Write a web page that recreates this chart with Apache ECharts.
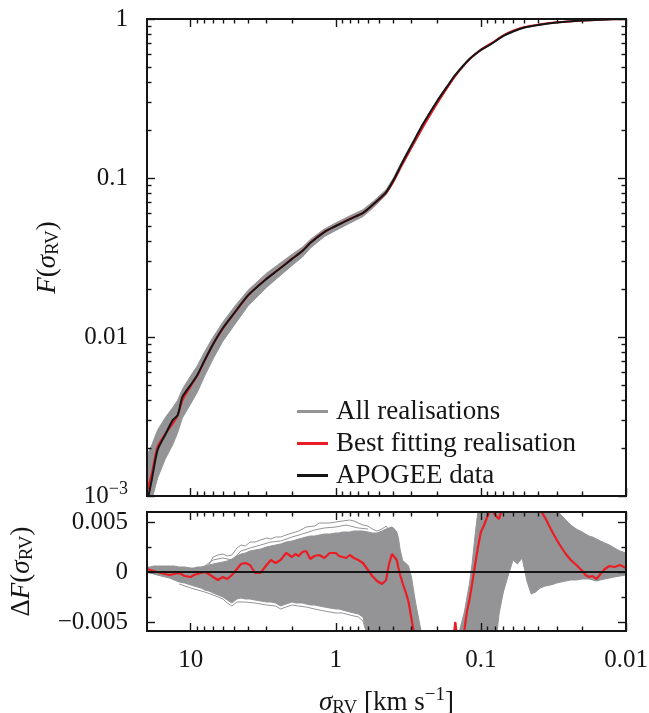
<!DOCTYPE html>
<html>
<head>
<meta charset="utf-8">
<script src="https://cdn.jsdelivr.net/npm/echarts@6/dist/echarts.min.js"></script>
<style>
  html, body { margin: 0; padding: 0; background: #ffffff; }
  #chart { width: 649px; height: 713px; }
</style>
</head>
<body>
<div id="chart"></div>
<script>
// ---------- axis ranges and tick labels ----------
const SIGMA_MIN = 0.01, SIGMA_MAX = 20;     // km/s, drawn reversed (large on the left)
const F_MIN = 0.001, F_MAX = 1;
const DF_MIN = -0.0059, DF_MAX = 0.006;

const sigmaTickValues = [0.01, 0.1, 1, 10];
const sigmaTickLabels = ['0.01', '0.1', '1', '10'];
const sigmaMinorTicks = [0.02, 0.03, 0.04, 0.05, 0.06, 0.07, 0.08, 0.09,
                         0.2, 0.3, 0.4, 0.5, 0.6, 0.7, 0.8, 0.9,
                         2, 3, 4, 5, 6, 7, 8, 9];
const fTickValues = [0.001, 0.01, 0.1, 1];
const fTickLabels = ['{m|10}{e|−3}', '0.01', '0.1', '1'];
const fMinorTicks = [0.002, 0.003, 0.004, 0.005, 0.006, 0.007, 0.008, 0.009,
                     0.02, 0.03, 0.04, 0.05, 0.06, 0.07, 0.08, 0.09,
                     0.2, 0.3, 0.4, 0.5, 0.6, 0.7, 0.8, 0.9];
const dfTickValues = [-0.005, 0, 0.005];
const dfTickLabels = ['−0.005', '0', '0.005'];
const dfMinorTicks = [-0.0025, 0.0025];

// ---------- upper panel: cumulative distribution F(sigma_RV) ----------
const topSigma = [20, 19.5, 18.5, 16.9, 15, 13.3, 12.3, 11.4, 10, 9,
                  8, 7, 6, 5, 4, 3, 2.5, 2, 1.7, 1.5,
                  1.2, 1, 0.8, 0.65, 0.55, 0.45, 0.4, 0.35, 0.3, 0.25,
                  0.2, 0.17, 0.15, 0.12, 0.1, 0.085, 0.07, 0.06, 0.05, 0.04,
                  0.03, 0.025, 0.02, 0.015, 0.01];
const fData = [0.00094, 0.00101, 0.00128, 0.00195, 0.00242, 0.0030, 0.00322, 0.0042, 0.0050, 0.00577,
               0.00716, 0.00904, 0.0114, 0.0142, 0.0184, 0.0232, 0.0264, 0.0310, 0.0347, 0.0390,
               0.0457, 0.0499, 0.0552, 0.0603, 0.0686, 0.0816, 0.0970, 0.124, 0.161, 0.219,
               0.305, 0.379, 0.445, 0.560, 0.638, 0.696, 0.782, 0.835, 0.884, 0.917,
               0.951, 0.964, 0.979, 0.990, 1.0];
const fBest = [0.00105, 0.00116, 0.00140, 0.00205, 0.00245, 0.00285, 0.00320, 0.00400, 0.00490, 0.00570,
               0.00710, 0.00900, 0.0113, 0.0141, 0.0183, 0.0233, 0.0265, 0.0311, 0.0348, 0.0391,
               0.0458, 0.0500, 0.0553, 0.0602, 0.0682, 0.0808, 0.0955, 0.121, 0.156, 0.210,
               0.295, 0.371, 0.439, 0.557, 0.642, 0.702, 0.789, 0.843, 0.891, 0.922,
               0.953, 0.965, 0.980, 0.990, 1.0];
// spread of all realisations (lowest / highest curve at each sigma)
const fAllLow = [0.00075, 0.00080, 0.00095, 0.00130, 0.00170, 0.00210, 0.00250, 0.00310, 0.00380, 0.00450,
                 0.00570, 0.00730, 0.00940, 0.0119, 0.0158, 0.0205, 0.0237, 0.0282, 0.0318, 0.0362,
                 0.0428, 0.0468, 0.0520, 0.0572, 0.0652, 0.0784, 0.0935, 0.118, 0.154, 0.208,
                 0.292, 0.368, 0.436, 0.553, 0.631, 0.690, 0.778, 0.830, 0.880, 0.914,
                 0.949, 0.962, 0.977, 0.989, 1.0];
const fAllHigh = [0.0018, 0.0019, 0.0021, 0.0026, 0.0031, 0.0036, 0.0040, 0.0047, 0.0057, 0.0066,
                  0.0081, 0.0100, 0.0124, 0.0155, 0.0198, 0.0252, 0.0285, 0.0331, 0.0367, 0.0410,
                  0.0478, 0.0522, 0.0578, 0.0632, 0.0715, 0.0845, 0.1005, 0.127, 0.165, 0.222,
                  0.309, 0.383, 0.449, 0.565, 0.645, 0.702, 0.791, 0.845, 0.893, 0.923,
                  0.955, 0.967, 0.981, 0.991, 1.0];

// ---------- lower panel: residuals Delta F(sigma_RV) ----------
const dSigma = [20, 19, 18, 17, 16, 15, 14, 13, 12, 11,
                10, 9.5, 9, 8.5, 8, 7.5, 7, 6.5, 6, 5.6,
                5.2, 4.8, 4.5, 4.2, 3.9, 3.6, 3.3, 3.0, 2.8, 2.6,
                2.4, 2.2, 2.0, 1.9, 1.8, 1.7, 1.6, 1.5, 1.4, 1.3,
                1.2, 1.1, 1.0, 0.95, 0.9, 0.85, 0.8, 0.75, 0.7, 0.65,
                0.6, 0.56, 0.52, 0.48, 0.45, 0.43, 0.41, 0.40, 0.38, 0.37,
                0.36, 0.345, 0.33, 0.315, 0.30, 0.29, 0.28, 0.26, 0.24, 0.22,
                0.20, 0.18, 0.16, 0.15, 0.145, 0.14, 0.13, 0.125, 0.12, 0.115,
                0.11, 0.105, 0.10, 0.095, 0.09, 0.085, 0.08, 0.075, 0.07, 0.065,
                0.06, 0.056, 0.052, 0.048, 0.045, 0.042, 0.039, 0.036, 0.033, 0.030,
                0.028, 0.026, 0.024, 0.022, 0.020, 0.019, 0.018, 0.017, 0.016, 0.015,
                0.014, 0.013, 0.012, 0.011, 0.010];
const dfBest = [0.0003, 0.0002, 0.0001, 0.0000, -0.0001, -0.0002, -0.0003, -0.0002, -0.0001, -0.0004,
                -0.0005, -0.0003, -0.0002, -0.0001, 0.0000, -0.0002, -0.0005, -0.0008, -0.0005, -0.0007,
                -0.0003, 0.0003, 0.0008, 0.0009, 0.0007, -0.0001, -0.0001, 0.0007, 0.0012, 0.0009,
                0.0012, 0.0019, 0.0015, 0.0018, 0.0016, 0.0020, 0.0021, 0.0013, 0.0016, 0.0017,
                0.0014, 0.0019, 0.0019, 0.0016, 0.0015, 0.0014, 0.0017, 0.0014, 0.0012, 0.0009,
                0.0002, -0.0004, -0.0009, -0.0012, -0.0008, 0.0008, 0.0018, 0.0020, 0.0012, 0.0004,
                -0.0003, -0.0012, -0.0020, -0.0030, -0.0048, -0.0060, -0.0075, -0.0095, -0.0110, -0.0118,
                -0.0118, -0.0105, -0.0085, -0.0050, -0.0070, -0.0078, -0.0058, -0.0040, -0.0028, -0.0012,
                0.0006, 0.0024, 0.0040, 0.0047, 0.0056, 0.0064, 0.0057, 0.0053, 0.0068, 0.0078,
                0.0082, 0.0076, 0.0079, 0.0074, 0.0072, 0.0068, 0.0062, 0.0054, 0.0043, 0.0032,
                0.0025, 0.0018, 0.0012, 0.0007, 0.0001, -0.0003, -0.0005, -0.0004, -0.0007, -0.0002,
                0.0003, 0.0006, 0.0005, 0.0007, 0.0004];
const dfAllLow = [0.0000, -0.0001, -0.0002, -0.0003, -0.0004, -0.0005, -0.0006, -0.0008, -0.0010, -0.0011,
                  -0.0013, -0.0014, -0.0015, -0.0016, -0.0018, -0.0019, -0.0021, -0.0023, -0.0025, -0.0028,
                  -0.0031, -0.0027, -0.0026, -0.0027, -0.0027, -0.0028, -0.0029, -0.0030, -0.0030, -0.0031,
                  -0.0034, -0.0032, -0.0030, -0.0031, -0.0031, -0.0031, -0.0032, -0.0033, -0.0033, -0.0034,
                  -0.0035, -0.0036, -0.0037, -0.0037, -0.0038, -0.0039, -0.0040, -0.0041, -0.0042, -0.0045,
                  -0.0065, -0.0090, -0.0120, -0.0120, -0.0120, -0.0120, -0.0120, -0.0120, -0.0120, -0.0120,
                  -0.0120, -0.0120, -0.0120, -0.0120, -0.0120, -0.0120, -0.0120, -0.0120, -0.0130, -0.0130,
                  -0.0130, -0.0130, -0.0130, -0.0130, -0.0130, -0.0130, -0.0130, -0.0130, -0.0130, -0.0130,
                  -0.0130, -0.0130, -0.0130, -0.0130, -0.0130, -0.0110, -0.0080, -0.0042, -0.0020, -0.0004,
                  0.0012, 0.0008, 0.0014, -0.0010, -0.0022, -0.0020, -0.0016, -0.0014, -0.0013, -0.0011,
                  -0.0010, -0.0009, -0.0008, -0.0008, -0.0007, -0.0007, -0.0007, -0.0008, -0.0009, -0.0008,
                  -0.0007, -0.0006, -0.0005, -0.0004, -0.0003];
const dfAllHigh = [0.0005, 0.0005, 0.0006, 0.0006, 0.0006, 0.0006, 0.0006, 0.0006, 0.0005, 0.0005,
                   0.0004, 0.0004, 0.0005, 0.0005, 0.0006, 0.0007, 0.0008, 0.0009, 0.0010, 0.0011,
                   0.0013, 0.0016, 0.0018, 0.0019, 0.0021, 0.0022, 0.0023, 0.0025, 0.0026, 0.0027,
                   0.0028, 0.0030, 0.0031, 0.0032, 0.0033, 0.0034, 0.0035, 0.0036, 0.0036, 0.0037,
                   0.0038, 0.0038, 0.0039, 0.0039, 0.0040, 0.0040, 0.0040, 0.0041, 0.0041, 0.0041,
                   0.0040, 0.0039, 0.0039, 0.0041, 0.0043, 0.0044, 0.0045, 0.0044, 0.0040, 0.0034,
                   0.0022, 0.0011, 0.0009, 0.0006, -0.0006, -0.0020, -0.0033, -0.0057, -0.0078, -0.0090,
                   -0.0095, -0.0090, -0.0078, -0.0070, -0.0064, -0.0058, -0.0040, -0.0026, -0.0012, 0.0008,
                   0.0035, 0.0060, 0.0080, 0.0090, 0.0090, 0.0090, 0.0090, 0.0090, 0.0090, 0.0090,
                   0.0090, 0.0090, 0.0090, 0.0090, 0.0090, 0.0090, 0.0085, 0.0078, 0.0070, 0.0062,
                   0.0057, 0.0052, 0.0047, 0.0043, 0.0040, 0.0038, 0.0036, 0.0035, 0.0033, 0.0031,
                   0.0029, 0.0027, 0.0024, 0.0021, 0.0019];
// individual realisations that stray outside the main bundle, [sigma, Delta F]
const dfStrayHigh = [[7.5, 0.0007], [7, 0.0015], [6.5, 0.0017], [6, 0.0018], [5.6, 0.0016], [5.2, 0.0017],
                     [4.8, 0.0024], [4.5, 0.0027], [4.2, 0.0026], [3.9, 0.0030], [3.6, 0.0030], [3.3, 0.0032],
                     [3.0, 0.0034], [2.8, 0.0033], [2.6, 0.0035], [2.4, 0.0035], [2.2, 0.0037], [2.0, 0.0039],
                     [1.8, 0.0041], [1.6, 0.0045], [1.4, 0.0046], [1.3, 0.0049], [1.1, 0.0049], [1.0, 0.0050],
                     [0.9, 0.0051], [0.8, 0.0052], [0.75, 0.0051], [0.7, 0.0049], [0.65, 0.0047], [0.6, 0.0046],
                     [0.56, 0.0043], [0.52, 0.0041], [0.48, 0.0043], [0.45, 0.0046], [0.43, 0.0042],
                     [0.41, 0.0045], [0.40, 0.0041], [0.38, 0.0036]];
const dfStrayMid = [[8, 0.0006], [7, 0.0012], [6, 0.0014], [5.2, 0.0012], [4.5, 0.0021], [3.9, 0.0024],
                    [3.3, 0.0027], [2.8, 0.0030], [2.4, 0.0031], [2.0, 0.0035], [1.7, 0.0038], [1.4, 0.0042],
                    [1.2, 0.0044], [1.0, 0.0045], [0.85, 0.0047], [0.7, 0.0044], [0.6, 0.0043]];
const dfStrayLow = [[12, -0.0012], [10, -0.0016], [8, -0.0020], [7, -0.0023], [6, -0.0027], [5.6, -0.0031],
                    [5.2, -0.0034], [4.8, -0.0030], [4.2, -0.0030], [3.6, -0.0031], [3.0, -0.0033],
                    [2.6, -0.0034], [2.4, -0.0037], [2.2, -0.0035], [2.0, -0.0033], [1.8, -0.0034],
                    [1.6, -0.0035], [1.4, -0.0037], [1.2, -0.0039], [1.0, -0.0041], [0.9, -0.0041],
                    [0.8, -0.0043], [0.7, -0.0045], [0.65, -0.0049], [0.6, -0.0066]];

// ---------- styling ----------
const INK = '#151515', GREY = '#949496', RED = '#ec1c24';
const SERIF = "'Liberation Serif', 'DejaVu Serif', serif";
const TICK_STYLE = { color: INK, width: 1.4 };
const FRAME_STYLE = { color: INK, width: 2, cap: 'square' };
const MAJOR = 8, MINOR = 4.5;
const lg = Math.log10;

const NAME_RICH = {
  it:  { fontFamily: SERIF, fontStyle: 'italic', fontSize: 27, color: INK },
  rm:  { fontFamily: SERIF, fontSize: 27, color: INK },
  sub: { fontFamily: SERIF, fontSize: 19, color: INK, padding: [12, 0, 0, 0] },
  sup: { fontFamily: SERIF, fontSize: 19, color: INK, padding: [0, 0, 14, 0] }
};
const LABEL_STYLE = {
  show: true, fontFamily: SERIF, fontSize: 25, color: INK,
  showMinLabel: true, showMaxLabel: true,
  rich: {
    m: { fontFamily: SERIF, fontSize: 25, color: INK },
    e: { fontFamily: SERIF, fontSize: 18, color: INK, padding: [0, 0, 13, 0] }
  }
};

// hidden axes that carry the data scales
function dataAxis(type, gridIndex, min, max, inverse) {
  return { type, gridIndex, min, max, inverse, show: false, axisLine: { onZero: false } };
}
// frame / tick axes drawn over the plot (log panels use log10 space)
function guide(gridIndex, position, min, max, inverse, ticks, length, drawLine) {
  return {
    type: 'value', gridIndex, position, min, max, inverse, z: 10,
    axisLine: { show: drawLine, onZero: false, lineStyle: FRAME_STYLE },
    axisTick: { show: true, inside: true, length, customValues: ticks, lineStyle: TICK_STYLE },
    axisLabel: { show: false },
    splitLine: { show: false },
    splitArea: { show: false }
  };
}
function pick(list, labels) {
  return function (v) {
    const i = list.findIndex(t => Math.abs(t - v) < 1e-9);
    return i < 0 ? '' : labels[i];
  };
}

const X_LO = lg(SIGMA_MIN), X_HI = lg(SIGMA_MAX);
const Y_LO = lg(F_MIN), Y_HI = lg(F_MAX);
const xMajor = sigmaTickValues.map(lg), xMinor = sigmaMinorTicks.map(lg);
const yMajor = fTickValues.map(lg), yMinor = fMinorTicks.map(lg);

const xBottomLabelled = guide(1, 'bottom', X_LO, X_HI, true, xMajor, MAJOR, true);
xBottomLabelled.axisLabel = Object.assign({}, LABEL_STYLE, {
  customValues: xMajor, margin: 17, formatter: pick(xMajor, sigmaTickLabels)
});
xBottomLabelled.name = '{it|σ}{sub|RV}{rm| [km s}{sup|−1}{rm|]}';
xBottomLabelled.nameLocation = 'middle';
xBottomLabelled.nameGap = 55;
xBottomLabelled.nameTextStyle = { rich: NAME_RICH };

const yTopLabelled = guide(0, 'left', Y_LO, Y_HI, false, yMajor, MAJOR, true);
yTopLabelled.axisLabel = Object.assign({}, LABEL_STYLE, {
  customValues: yMajor, margin: 19, formatter: pick(yMajor, fTickLabels)
});
yTopLabelled.name = '{it|F}{rm|(}{it|σ}{sub|RV}{rm|)}';
yTopLabelled.nameLocation = 'middle';
yTopLabelled.nameGap = 84;
yTopLabelled.nameTextStyle = { rich: NAME_RICH };

const yBottomLabelled = guide(1, 'left', DF_MIN, DF_MAX, false, dfTickValues, MAJOR, true);
yBottomLabelled.axisLabel = Object.assign({}, LABEL_STYLE, {
  customValues: dfTickValues, margin: 19, formatter: pick(dfTickValues, dfTickLabels)
});
yBottomLabelled.name = '{rm|Δ}{it|F}{rm|(}{it|σ}{sub|RV}{rm|)}';
yBottomLabelled.nameLocation = 'middle';
yBottomLabelled.nameGap = 110;
yBottomLabelled.nameTextStyle = { rich: NAME_RICH };

// filled band spanning the bundle of realisations
function band(xi, yi, sig, lo, hi) {
  return {
    type: 'custom', name: 'All realisations', xAxisIndex: xi, yAxisIndex: yi,
    clip: true, silent: true, z: 1,
    itemStyle: { color: GREY },
    data: sig.map((s, i) => [s, lo[i], hi[i]]),
    encode: { x: 0, y: [1, 2] },
    renderItem(params, api) {
      if (params.dataIndex !== 0) return null;
      const pts = [];
      for (let i = 0; i < sig.length; i++) pts.push(api.coord([sig[i], hi[i]]));
      for (let i = sig.length - 1; i >= 0; i--) pts.push(api.coord([sig[i], lo[i]]));
      return { type: 'polygon', shape: { points: pts }, style: { fill: GREY, stroke: GREY, lineWidth: 1 } };
    }
  };
}
function curve(name, xi, yi, points, color, width, z, smooth) {
  return {
    type: 'line', name, xAxisIndex: xi, yAxisIndex: yi, data: points,
    showSymbol: false, symbol: 'none', smooth: smooth || false, z, silent: true,
    lineStyle: { color, width }, itemStyle: { color }
  };
}
const zip = (a, b) => a.map((s, i) => [s, b[i]]);

const option = {
  animation: false,
  backgroundColor: '#ffffff',
  grid: [
    { left: 147, top: 19, width: 479, height: 477, outerBoundsMode: 'none', containLabel: false },
    { left: 147, top: 512, width: 479, height: 119, outerBoundsMode: 'none', containLabel: false }
  ],
  xAxis: [
    dataAxis('log', 0, SIGMA_MIN, SIGMA_MAX, true),
    guide(0, 'bottom', X_LO, X_HI, true, xMajor, MAJOR, true),
    guide(0, 'bottom', X_LO, X_HI, true, xMinor, MINOR, false),
    guide(0, 'top', X_LO, X_HI, true, xMajor, MAJOR, true),
    guide(0, 'top', X_LO, X_HI, true, xMinor, MINOR, false),
    dataAxis('log', 1, SIGMA_MIN, SIGMA_MAX, true),
    xBottomLabelled,
    guide(1, 'bottom', X_LO, X_HI, true, xMinor, MINOR, false),
    guide(1, 'top', X_LO, X_HI, true, xMajor, MAJOR, true),
    guide(1, 'top', X_LO, X_HI, true, xMinor, MINOR, false)
  ],
  yAxis: [
    dataAxis('log', 0, F_MIN, F_MAX, false),
    yTopLabelled,
    guide(0, 'left', Y_LO, Y_HI, false, yMinor, MINOR, false),
    guide(0, 'right', Y_LO, Y_HI, false, yMajor, MAJOR, true),
    guide(0, 'right', Y_LO, Y_HI, false, yMinor, MINOR, false),
    dataAxis('value', 1, DF_MIN, DF_MAX, false),
    yBottomLabelled,
    guide(1, 'left', DF_MIN, DF_MAX, false, dfMinorTicks, MINOR, false),
    guide(1, 'right', DF_MIN, DF_MAX, false, dfTickValues, MAJOR, true),
    guide(1, 'right', DF_MIN, DF_MAX, false, dfMinorTicks, MINOR, false)
  ],
  legend: {
    data: ['All realisations', 'Best fitting realisation', 'APOGEE data'],
    orient: 'vertical', left: 292, top: 393,
    itemWidth: 31, itemHeight: 3, itemGap: 5, icon: 'rect',
    selectedMode: false,
    textStyle: { fontFamily: SERIF, fontSize: 27, color: INK, padding: [0, 0, 0, 3] }
  },
  series: [
    // upper panel
    band(0, 0, topSigma, fAllLow, fAllHigh),
    curve('Best fitting realisation', 0, 0, zip(topSigma, fBest), RED, 2, 3, 0.25),
    curve('APOGEE data', 0, 0, zip(topSigma, fData), INK, 2, 4, 0.25),
    // lower panel
    band(5, 5, dSigma, dfAllLow, dfAllHigh),
    curve('All realisations', 5, 5, dfStrayHigh, GREY, 1, 2),
    curve('All realisations', 5, 5, dfStrayMid, GREY, 1, 2),
    curve('All realisations', 5, 5, dfStrayLow, GREY, 1, 2),
    Object.assign(curve('Best fitting realisation', 5, 5, zip(dSigma, dfBest), RED, 2.2, 3), {
      markLine: {
        silent: true, symbol: 'none', label: { show: false }, z: 6,
        lineStyle: { color: INK, width: 2, type: 'solid' },
        data: [{ yAxis: 0 }]
      }
    })
  ]
};

const chart = echarts.init(document.getElementById('chart'), null, { renderer: 'canvas' });
chart.setOption(option);
</script>
</body>
</html>
